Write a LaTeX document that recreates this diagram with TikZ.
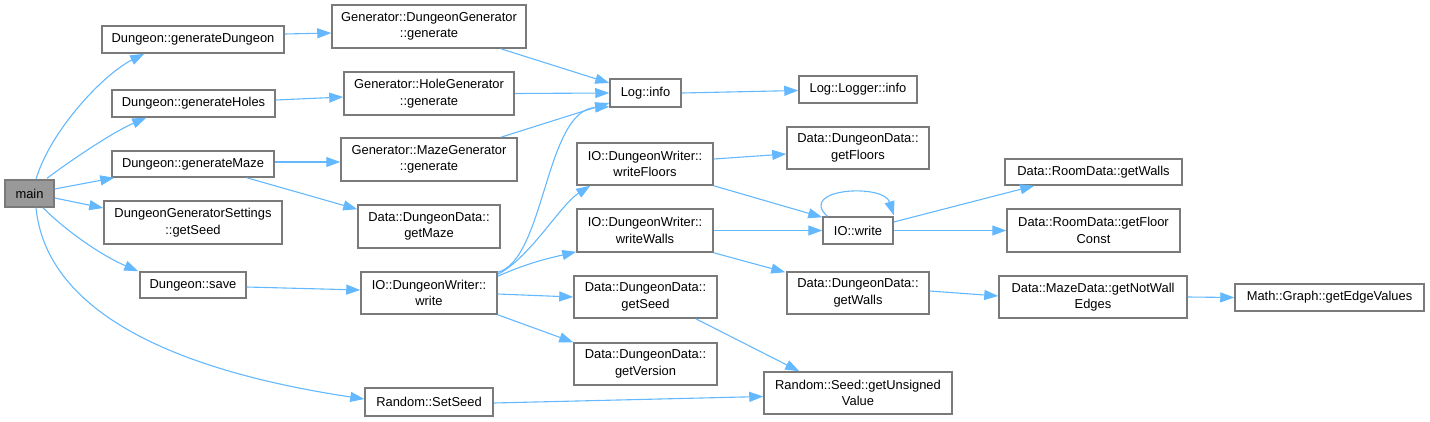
\documentclass[tikz,border=0pt]{standalone}
\usepackage{fontspec}
\setmainfont{Liberation Sans}
\usetikzlibrary{arrows.meta}
\definecolor{edgeblue}{HTML}{63B8FF}
\definecolor{boxline}{HTML}{7A7A7A}
\definecolor{mainfill}{HTML}{999999}
\tikzset{
  fn/.style={draw=boxline, fill=white, line width=1.5pt, inner sep=0pt, align=center,
    font=\fontsize{12.9}{16.5}\selectfont, text=black},
  mainbox/.style={fn, fill=mainfill},
  call/.style={draw=edgeblue, line width=1.1pt, -{Triangle[length=14pt,width=10pt]}, edgeblue},
}
\begin{document}
\begin{tikzpicture}[x=1pt,y=-1pt]
\useasboundingbox (0,0) rectangle (1430,421);
% column 1
\node[mainbox, minimum width=49pt, minimum height=27pt] (main) at (29.5,193.5) {main};
% column 2
\node[fn, minimum width=182pt, minimum height=27pt] (gD) at (193,39.5) {Dungeon::generateDungeon};
\node[fn, minimum width=163pt, minimum height=27pt] (gH) at (193.5,103.5) {Dungeon::generateHoles};
\node[fn, minimum width=162pt, minimum height=26pt] (gM) at (193,164) {Dungeon::generateMaze};
\node[fn, minimum width=178pt, minimum height=43pt] (dgs) at (193,222.5) {DungeonGeneratorSettings\\::getSeed};
\node[fn, minimum width=106pt, minimum height=26pt] (save) at (193,285) {Dungeon::save};
% column 3
\node[fn, minimum width=194pt, minimum height=43pt] (DGgen) at (429,26.5) {Generator::DungeonGenerator\\::generate};
\node[fn, minimum width=170pt, minimum height=43pt] (HGgen) at (429,93.5) {Generator::HoleGenerator\\::generate};
\node[fn, minimum width=176pt, minimum height=43pt] (MGgen) at (429,159.5) {Generator::MazeGenerator\\::generate};
\node[fn, minimum width=142pt, minimum height=43pt] (getMaze) at (429,226.5) {Data::DungeonData::\\getMaze};
\node[fn, minimum width=136pt, minimum height=42pt] (write) at (429,293) {IO::DungeonWriter::\\write};
\node[fn, minimum width=128pt, minimum height=28pt] (setseed) at (429,402) {Random::SetSeed};
% column 4
\node[fn, minimum width=71pt, minimum height=28pt] (loginfo) at (645.5,93) {Log::info};
\node[fn, minimum width=136pt, minimum height=42pt] (wFloors) at (645,164) {IO::DungeonWriter::\\writeFloors};
\node[fn, minimum width=136pt, minimum height=43pt] (wWalls) at (645,230.5) {IO::DungeonWriter::\\writeWalls};
\node[fn, minimum width=143pt, minimum height=42pt] (ddSeed) at (645.5,297) {Data::DungeonData::\\getSeed};
\node[fn, minimum width=143pt, minimum height=42pt] (ddVersion) at (645.5,364) {Data::DungeonData::\\getVersion};
% column 5
\node[fn, minimum width=118pt, minimum height=27pt] (logger) at (858,89.5) {Log::Logger::info};
\node[fn, minimum width=142pt, minimum height=42pt] (ddFloors) at (858,148) {Data::DungeonData::\\getFloors};
\node[fn, minimum width=70pt, minimum height=27pt] (iowrite) at (858,230.5) {IO::write};
\node[fn, minimum width=142pt, minimum height=42pt] (ddWalls) at (858,293) {Data::DungeonData::\\getWalls};
\node[fn, minimum width=188pt, minimum height=42pt] (unsigned) at (858,393) {Random::Seed::getUnsigned\\Value};
% column 6
\node[fn, minimum width=177pt, minimum height=26pt] (rdWalls) at (1093.5,172) {Data::RoomData::getWalls};
\node[fn, minimum width=173pt, minimum height=43pt] (rdFloor) at (1093.5,230.5) {Data::RoomData::getFloor\\Const};
\node[fn, minimum width=188pt, minimum height=42pt] (notWall) at (1093,297) {Data::MazeData::getNotWall\\Edges};
% column 7
\node[fn, minimum width=189pt, minimum height=27pt] (edgeValues) at (1329.5,297.5) {Math::Graph::getEdgeValues};

% edges from main
\draw[call] ([xshift=6.5pt]main.north) .. controls +(15,-50) and +(-40,20) .. ([xshift=43pt]gD.south west);
\draw[call] ([xshift=17.5pt,yshift=1pt]main.north) .. controls +(20,-15) and +(-35,15) .. ([xshift=35pt]gH.south west);
\draw[call] ([yshift=4.5pt]main.east) -- ([xshift=3pt]gM.south west);
\draw[call] ([yshift=-4.5pt]main.east) -- ([yshift=14.5pt]dgs.west);
\draw[call] ([xshift=13.5pt]main.south) .. controls +(25,25) and +(-35,-15) .. ([xshift=-1pt]save.north west);
\draw[call] ([xshift=6.5pt]main.south) .. controls +(10,100) and +(-200,-30) .. ([yshift=3pt]setseed.west);
% column 2 -> 3
\draw[call] ([yshift=5.5pt]gD.east) -- ([yshift=-6.5pt]DGgen.west);
\draw[call] ([yshift=3.5pt]gH.east) -- ([yshift=-3.5pt]HGgen.west);
\draw[call] ([yshift=2pt]gM.east) -- ([yshift=-2.5pt]MGgen.west);
\draw[call] ([xshift=-28pt]gM.south east) -- ([yshift=-5pt]getMaze.north west);
\draw[call] ([yshift=-2pt]save.east) -- ([yshift=3pt]write.west);
% column 3 -> 4
\draw[call] ([xshift=-26pt]DGgen.south east) -- ([yshift=10pt]loginfo.west);
\draw[call] (HGgen.east) -- (loginfo.west);
\draw[call] ([xshift=-17pt]MGgen.north east) -- ([yshift=-10pt]loginfo.west);
\draw[call] ([yshift=-1pt]write.north east) .. controls (545,260) and (545,110) .. ([yshift=1pt]loginfo.south west);
\draw[call] ([yshift=-3pt]write.north east) .. controls (530,258) and (560,205) .. ([xshift=14pt]wFloors.south west);
\draw[call] ([yshift=-5pt]write.north east) .. controls (530,262) and (550,258) .. ([yshift=1pt]wWalls.south west);
\draw[call] ([yshift=-1pt]write.east) -- ([yshift=0pt]ddSeed.west);
\draw[call] (write.south east) -- (ddVersion.north west);
\draw[call] ([yshift=-1pt]setseed.east) -- ([yshift=-3.5pt]unsigned.west);
% column 4 -> 5
\draw[call] (loginfo.east) -- ([yshift=-1pt]logger.west);
\draw[call] ([yshift=5pt]wFloors.east) -- ([yshift=-6pt]ddFloors.west);
\draw[call] (wFloors.south east) -- ([yshift=-1pt]iowrite.north west);
\draw[call] (wWalls.east) -- (iowrite.west);
\draw[call] (wWalls.south east) -- ([xshift=-1pt,yshift=-1pt]ddWalls.north west);
\draw[call] ([xshift=-22pt]ddSeed.south east) -- ([xshift=36pt]unsigned.north west);
% self loop
\draw[call] ([xshift=5pt]iowrite.north west) .. controls +(-30,-28) and +(-10,-32) .. ([yshift=1pt]iowrite.north east);
% column 5 -> 6 -> 7
\draw[call] ([yshift=8.5pt]iowrite.east) -- ([xshift=30pt]rdWalls.south west);
\draw[call] (iowrite.east) -- (rdFloor.west);
\draw[call] ([yshift=2pt]ddWalls.east) -- ([yshift=1pt]notWall.west);
\draw[call] (notWall.east) -- (edgeValues.west);
\end{tikzpicture}
\end{document}
